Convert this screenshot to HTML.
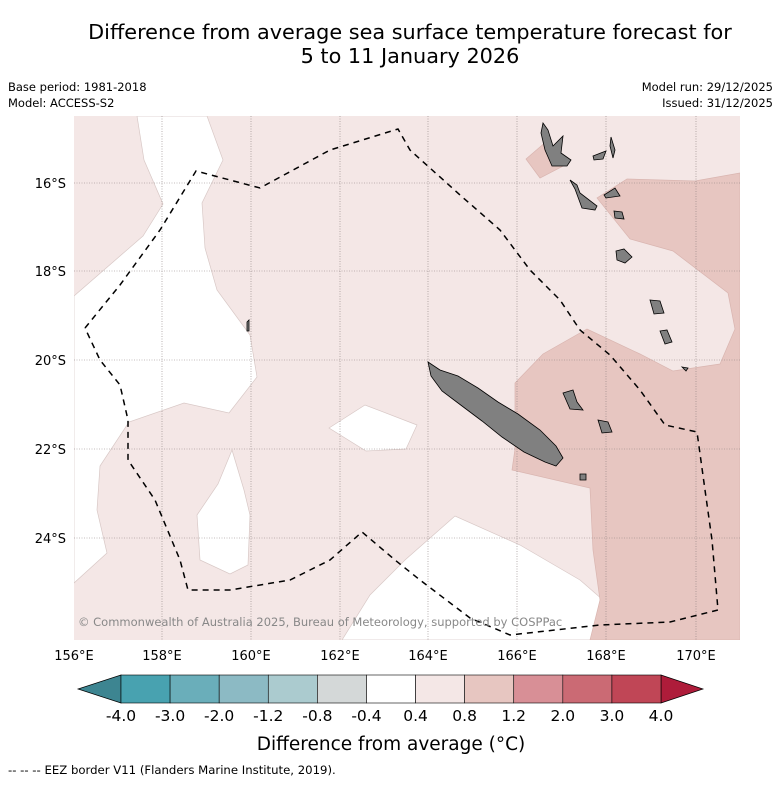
<!DOCTYPE html>
<html><head><meta charset="utf-8"><style>
body{margin:0;background:#fff;font-family:"Liberation Sans","DejaVu Sans",sans-serif;}
svg text{font-family:"DejaVu Sans","Liberation Sans",sans-serif;}
</style></head><body>
<svg width="781" height="781" viewBox="0 0 781 781" xmlns="http://www.w3.org/2000/svg">
<text x="410" y="39" font-size="20.8" text-anchor="middle">Difference from average sea surface temperature forecast for</text>
<text x="410" y="63" font-size="20.8" text-anchor="middle">5 to 11 January 2026</text>
<text x="8" y="91" font-size="11.5">Base period: 1981-2018</text>
<text x="8" y="107" font-size="11.5">Model: ACCESS-S2</text>
<text x="773" y="91" font-size="11.5" text-anchor="end">Model run: 29/12/2025</text>
<text x="773" y="107" font-size="11.5" text-anchor="end">Issued: 31/12/2025</text>
<defs><clipPath id="mc"><rect x="74" y="116" width="666" height="524"/></clipPath></defs>
<g clip-path="url(#mc)">
<rect x="74" y="116" width="666" height="524" fill="#f4e7e6"/>
<g fill="#fff" stroke="#d8c8c6" stroke-width="0.7">
<polygon points="137,116 207,116 223,160 202,203 205,248 217,290 250,335 257,377 229,413 184,403 129,422 100,466 97,510 107,553 74,583 74,296 143,236 163,204 144,160"/>
<polygon points="329,428 365,405 417,425 406,449 366,451"/>
<polygon points="232,450 244,490 250,515 248,565 230,574 200,560 197,515 218,484"/>
<polygon points="342,640 370,595 405,560 455,516 520,545 580,580 603,600 592,640"/>
</g>
<g fill="#e7c6c1" stroke="#d9b5b0" stroke-width="0.7">
<polygon points="740,173 695,181 627,179 597,198 630,239 673,251 728,293 735,329 720,364 673,371 640,354 587,329 543,354 515,383 515,449 512,470 590,488 593,550 600,600 590,640 740,640"/>
<polygon points="526,159 547,141 567,164 540,178"/>
</g>
<g stroke="#8a7f7f" stroke-width="0.6" stroke-dasharray="1,1.5">
<line x1="162" y1="116" x2="162" y2="640"/><line x1="251" y1="116" x2="251" y2="640"/><line x1="340" y1="116" x2="340" y2="640"/><line x1="428" y1="116" x2="428" y2="640"/><line x1="517" y1="116" x2="517" y2="640"/><line x1="606" y1="116" x2="606" y2="640"/><line x1="696" y1="116" x2="696" y2="640"/>
<line x1="74" y1="183" x2="740" y2="183"/><line x1="74" y1="271" x2="740" y2="271"/><line x1="74" y1="360" x2="740" y2="360"/><line x1="74" y1="449" x2="740" y2="449"/><line x1="74" y1="538" x2="740" y2="538"/>
</g>
<g fill="#808080" stroke="#000" stroke-width="0.8">
<polygon points="428,362 440,370 458,376 478,388 498,402 518,414 540,430 556,446 563,458 556,466 545,462 524,452 502,437 482,421 462,406 442,391 431,376"/>
<polygon points="543,123 548,130 553,146 563,136 561,153 571,160 567,166 552,166 545,150 541,133"/>
<polygon points="570,180 577,185 580,193 597,206 595,210 582,208 575,189"/>
<polygon points="604,195 615,188 620,196 606,198"/>
<polygon points="611,137 615,150 613,158 610,146"/>
<polygon points="593,156 606,151 603,159 594,160"/>
<polygon points="614,211 622,212 624,219 615,218"/>
<polygon points="616,251 624,249 632,257 625,263 617,260"/>
<polygon points="650,300 660,301 664,313 654,314"/>
<polygon points="660,331 667,330 672,342 665,344"/>
<polygon points="682,367 688,368 686,371"/>
<polygon points="563,393 573,390 577,402 583,410 570,409"/>
<polygon points="598,420 608,422 612,432 602,433"/>
<polygon points="580,474 586,474 586,480 580,480"/>
<polygon points="247,322 249,320 249,331 247,331"/>
</g>
<polyline fill="none" stroke="#000" stroke-width="1.5" stroke-dasharray="6,5" points="85,328 120,285 160,230 196,171 260,188 330,150 398,129 410,150 460,195 500,230 530,270 560,300 580,330 610,355 640,390 665,425 697,432 705,490 712,540 718,610 670,622 600,625 510,635 470,618 420,580 395,560 362,532 330,560 290,580 230,590 188,590 180,560 155,500 128,460 128,420 120,385 100,360 85,328"/>
<text x="78" y="626" font-size="11.5" fill="#888">© Commonwealth of Australia 2025, Bureau of Meteorology, supported by COSPPac</text>
</g>
<g font-size="13">
<text x="66" y="188" text-anchor="end">16°S</text><text x="66" y="276" text-anchor="end">18°S</text><text x="66" y="365" text-anchor="end">20°S</text><text x="66" y="454" text-anchor="end">22°S</text><text x="66" y="543" text-anchor="end">24°S</text>
</g>
<g font-size="13" text-anchor="middle">
<text x="74" y="660">156°E</text><text x="162" y="660">158°E</text><text x="251" y="660">160°E</text><text x="340" y="660">162°E</text><text x="428" y="660">164°E</text><text x="517" y="660">166°E</text><text x="606" y="660">168°E</text><text x="696" y="660">170°E</text>
</g>
<g id="cbar"></g>
<text x="391" y="750" font-size="18.5" text-anchor="middle">Difference from average (°C)</text>
<text x="8" y="774" font-size="11.7">--  --  -- EEZ border V11 (Flanders Marine Institute, 2019).</text>
</svg>
<script>
const levels=["-4.0","-3.0","-2.0","-1.2","-0.8","-0.4","0.4","0.8","1.2","2.0","3.0","4.0"];
const colors=["#48a2b0","#6aaeba","#8cbac4","#abcbcf","#d4d8d8","#ffffff","#f4e7e6","#e7c6c1","#d88f96","#cb6a74","#c04656"];
const extColors=["#3d8591","#ae1c3a"];
const g=document.getElementById('cbar');const NS="http://www.w3.org/2000/svg";
const x0=121,x1=661,y0=675,h=28,w=(x1-x0)/colors.length;
function mk(t,a){const e=document.createElementNS(NS,t);for(const k in a)e.setAttribute(k,a[k]);g.appendChild(e);return e;}
let l=mk('polygon',{points:`${x0},${y0} ${x0},${y0+h} 78,${y0+h/2}`,fill:extColors[0],stroke:'#000','stroke-width':0.7});


let r=mk('polygon',{points:`${x1},${y0} ${x1},${y0+h} 703,${y0+h/2}`,fill:extColors[1],stroke:'#000','stroke-width':0.7});


colors.forEach((c,i)=>{const b=mk('rect',{x:x0+i*w,y:y0,width:w,height:h,fill:c,stroke:'#000','stroke-width':0.6});

});
levels.forEach((s,i)=>{const t=mk('text',{x:x0+i*w,y:721,'font-size':15.5,'text-anchor':'middle'});t.textContent=s;

});
</script>
</body></html>
